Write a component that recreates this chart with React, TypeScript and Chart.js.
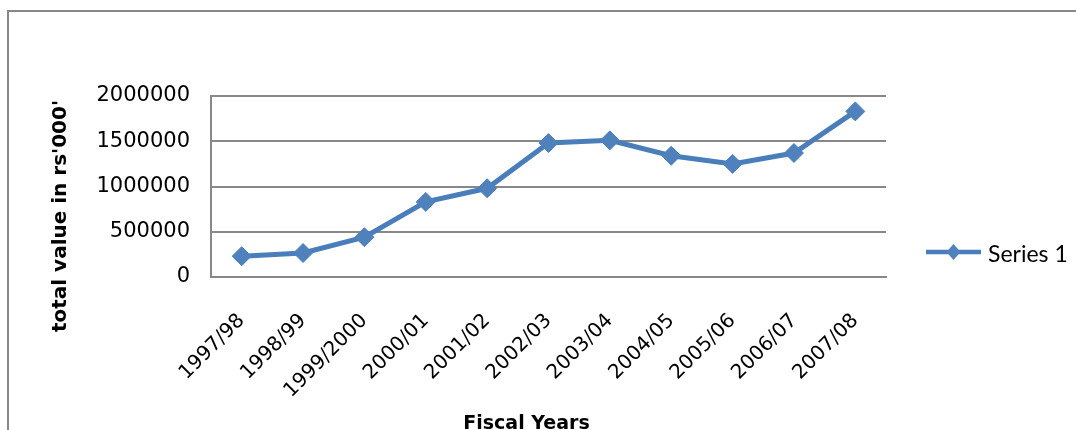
import React, { useEffect, useRef } from "react";
import { Chart, registerables } from "chart.js";

Chart.register(...registerables);

const categories = [
  "1997/98",
  "1998/99",
  "1999/2000",
  "2000/01",
  "2001/02",
  "2002/03",
  "2003/04",
  "2004/05",
  "2005/06",
  "2006/07",
  "2007/08",
];
const seriesName = "Series 1";
const seriesValues = [
  230000, 265000, 440000, 830000, 980000, 1480000, 1510000, 1340000, 1250000,
  1370000, 1830000,
];
const yTicks = [0, 500000, 1000000, 1500000, 2000000];
const yAxisTitle = "total value in rs'000'";
const xAxisTitle = "Fiscal Years";

const W = 1076;
const H = 430;
const LINE_COLOR = "#4A7EBB";
const MARKER_COLOR = "#4F81BD";
const GRID_COLOR = "#888888";

const decorPlugin = {
  id: "decor",
  beforeDraw(chart: any) {
    const ctx = chart.ctx;
    ctx.save();
    ctx.fillStyle = "#ffffff";
    ctx.fillRect(0, 0, chart.width, chart.height);
    ctx.strokeStyle = GRID_COLOR;
    ctx.lineWidth = 2;
    ctx.strokeRect(8, 11, chart.width + 50, chart.height + 50);
    ctx.restore();
  },
  afterDraw(chart: any) {
    const ctx = chart.ctx;
    const area = chart.chartArea;
    ctx.save();
    // y axis title
    ctx.fillStyle = "#000";
    ctx.font = "bold 20px 'DejaVu Sans'";
    ctx.textAlign = "center";
    ctx.textBaseline = "middle";
    ctx.translate(61, 216);
    ctx.rotate(-Math.PI / 2);
    ctx.fillText(yAxisTitle, 0, 0);
    ctx.restore();

    ctx.save();
    ctx.fillStyle = "#000";
    ctx.font = "bold 19px 'DejaVu Sans'";
    ctx.textAlign = "center";
    ctx.textBaseline = "alphabetic";
    ctx.fillText(xAxisTitle, 526.5, 429);
    ctx.restore();

    // legend
    const ds = chart.data.datasets[0];
    const ly = 252;
    const lx0 = area.right + 40;
    const lx1 = lx0 + 55;
    const cx = (lx0 + lx1) / 2;
    ctx.save();
    ctx.strokeStyle = ds.borderColor;
    ctx.lineWidth = 4.5;
    ctx.beginPath();
    ctx.moveTo(lx0, ly);
    ctx.lineTo(lx1, ly);
    ctx.stroke();
    ctx.fillStyle = ds.pointBackgroundColor;
    ctx.beginPath();
    ctx.moveTo(cx, ly - 8);
    ctx.lineTo(cx + 7, ly);
    ctx.lineTo(cx, ly + 8);
    ctx.lineTo(cx - 7, ly);
    ctx.closePath();
    ctx.fill();
    ctx.fillStyle = "#000";
    ctx.font = "23px Lato";
    ctx.textAlign = "left";
    ctx.textBaseline = "alphabetic";
    ctx.fillText(ds.label, lx1 + 7, 262);
    ctx.restore();
  },
};

export default function App() {
  const ref = useRef<HTMLCanvasElement | null>(null);

  useEffect(() => {
    if (!ref.current) return;
    const chart = new Chart(ref.current, {
      type: "line",
      data: {
        labels: categories,
        datasets: [
          {
            label: seriesName,
            data: seriesValues,
            borderColor: LINE_COLOR,
            backgroundColor: MARKER_COLOR,
            borderWidth: 5,
            tension: 0,
            pointStyle: "rectRot",
            pointRadius: 9.5,
            pointBackgroundColor: MARKER_COLOR,
            pointBorderColor: MARKER_COLOR,
            pointBorderWidth: 1,
            fill: false,
          },
        ],
      },
      plugins: [decorPlugin],
      options: {
        responsive: false,
        animation: false,
        layout: { padding: { top: 96, right: 190, left: 0, bottom: 0 } },
        plugins: {
          legend: { display: false },
          tooltip: { enabled: false },
          title: { display: false },
        },
        scales: {
          x: {
            type: "category",
            offset: true,
            grid: { display: false, drawTicks: false },
            border: { display: true, color: GRID_COLOR, width: 2 },
            ticks: {
              color: "#000",
              font: { family: "'DejaVu Sans'", size: 20 },
              minRotation: 45,
              maxRotation: 45,
              autoSkip: false,
              padding: 32,
            },
            afterFit: (s: any) => {
              s.height = H - 277;
            },
          },
          y: {
            min: yTicks[0],
            max: yTicks[yTicks.length - 1],
            afterBuildTicks: (s: any) => {
              s.ticks = yTicks.map((v) => ({ value: v }));
            },
            grid: { color: GRID_COLOR, lineWidth: 2, drawTicks: false },
            border: { display: true, color: GRID_COLOR, width: 2 },
            ticks: {
              color: "#000",
              font: { family: "'DejaVu Sans'", size: 21 },
              padding: 21,
              callback: (v: any) => String(v),
            },
            afterFit: (s: any) => {
              s.width = 211;
            },
          },
        },
      },
    });
    return () => chart.destroy();
  }, []);

  return (
    <div
      style={{
        position: "absolute",
        top: 0,
        left: 0,
        width: W,
        height: H,
        overflow: "hidden",
        background: "#fff",
      }}
    >
      <canvas ref={ref} width={W} height={H} style={{ display: "block" }} />
    </div>
  );
}
